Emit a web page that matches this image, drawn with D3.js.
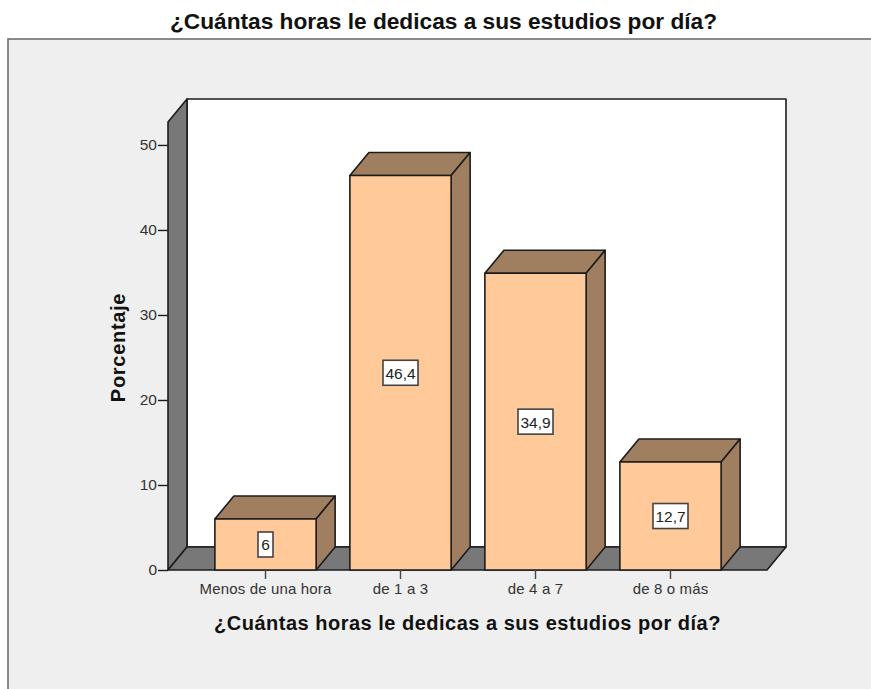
<!DOCTYPE html>
<html><head><meta charset="utf-8">
<script src="https://cdn.jsdelivr.net/npm/d3@7"></script>
<style>html,body{margin:0;padding:0;background:#fff}svg{display:block}text{font-family:"Liberation Sans",Arial,sans-serif}</style>
</head><body><div id="c"></div>
<script>
const categories=["Menos de una hora","de 1 a 3","de 4 a 7","de 8 o más"];
const values=[6,46.4,34.9,12.7];
const valueLabels=["6","46,4","34,9","12,7"];
const yTicks=[0,10,20,30,40,50];
const chartTitle="¿Cuántas horas le dedicas a sus estudios por día?";
const yTitle="Porcentaje";

const W=871,H=689,DX=19,DY=-23;
const svg=d3.select("#c").append("svg").attr("width",W).attr("height",H);
const x=d3.scaleBand().domain(categories).range([198,738]).paddingInner(0.25).paddingOuter(0.125);
const y=d3.scaleLinear().domain([0,52.7]).range([570,122]);
const L=168,R=767,B=y(0),T=y(52.7);
const ink="#1c1c1c";
const poly=(pts,fill)=>svg.append("polygon").attr("points",pts.map(p=>p.join(",")).join(" ")).attr("fill",fill).attr("stroke",ink).attr("stroke-width",1.6).attr("stroke-linejoin","round");

svg.append("rect").attr("x",8).attr("y",39).attr("width",W).attr("height",H).attr("fill","#efefef").attr("stroke","#6f6f6f").attr("stroke-width",1.6);
svg.append("text").attr("x",443.5).attr("y",29).attr("text-anchor","middle").attr("font-weight","bold").attr("font-size",22.7).attr("fill","#111").text(chartTitle);

poly([[L+DX,T+DY],[R+DX,T+DY],[R+DX,B+DY],[L+DX,B+DY]],"#ffffff");
poly([[L,T],[L+DX,T+DY],[L+DX,B+DY],[L,B]],"#787878");
poly([[L,B],[L+DX,B+DY],[R+DX,B+DY],[R,B]],"#787878");

categories.forEach((c,i)=>{
  const x0=x(c),x1=x0+x.bandwidth(),yv=y(values[i]);
  poly([[x0,yv],[x0+DX,yv+DY],[x1+DX,yv+DY],[x1,yv]],"#a07f60");
  poly([[x1,yv],[x1+DX,yv+DY],[x1+DX,B+DY],[x1,B]],"#a07f60");
  poly([[x0,yv],[x1,yv],[x1,B],[x0,B]],"#ffc999");
});
categories.forEach((c,i)=>{
  const cx=x(c)+x.bandwidth()/2,cy=(y(values[i])+B)/2;
  const w=valueLabels[i].length>1?35:15;
  svg.append("rect").attr("x",cx-w/2).attr("y",cy-12.5).attr("width",w).attr("height",25).attr("fill","#fff").attr("stroke","#444").attr("stroke-width",1.6);
  svg.append("text").attr("x",cx).attr("y",cy+6).attr("text-anchor","middle").attr("font-size",15.5).attr("fill","#222").text(valueLabels[i]);
});

const gy=svg.append("g").attr("transform",`translate(${L},0)`).call(d3.axisLeft(y).tickValues(yTicks).tickSize(10).tickPadding(1).tickFormat(d3.format("d")));
gy.select(".domain").remove();
gy.selectAll("line").attr("stroke",ink).attr("stroke-width",1.4);
gy.selectAll("text").attr("font-size",15.5).attr("fill","#333");
const gx=svg.append("g").attr("transform",`translate(0,${B})`).call(d3.axisBottom(x).tickSize(9).tickPadding(4));
gx.select(".domain").remove();
gx.selectAll("line").attr("stroke","#444").attr("stroke-width",1.4);
gx.selectAll("text").attr("font-size",15).attr("letter-spacing",0.15).attr("fill","#333");

svg.append("text").attr("x",467.5).attr("y",630).attr("text-anchor","middle").attr("font-weight","bold").attr("font-size",20).attr("letter-spacing",0.5).attr("fill","#111").text(chartTitle);
svg.append("text").attr("transform","translate(125,347.5) rotate(-90)").attr("text-anchor","middle").attr("font-weight","bold").attr("font-size",20).attr("letter-spacing",0.7).attr("fill","#111").text(yTitle);
</script></body></html>
